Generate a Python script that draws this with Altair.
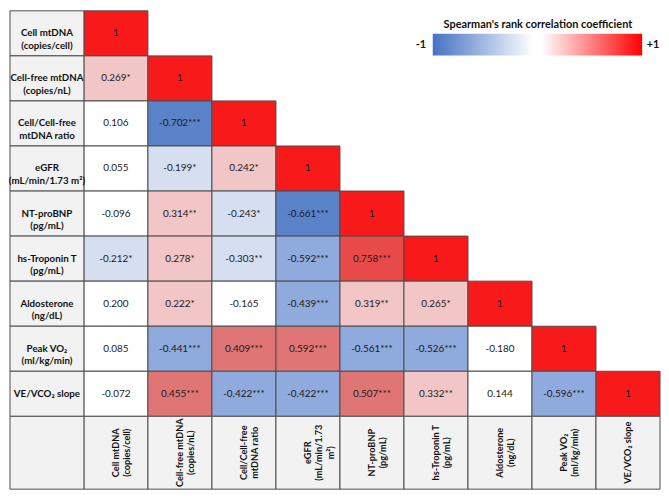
import altair as alt
import pandas as pd

row_labels = [
    "Cell mtDNA\n(copies/cell)",
    "Cell-free mtDNA\n(copies/nL)",
    "Cell/Cell-free\nmtDNA ratio",
    "eGFR\n(mL/min/1.73 m²)",
    "NT-proBNP\n(pg/mL)",
    "hs-Troponin T\n(pg/mL)",
    "Aldosterone\n(ng/dL)",
    "Peak VO₂\n(ml/kg/min)",
    "VE/VCO₂ slope",
]
col_labels = [
    "Cell mtDNA\n(copies/cell)",
    "Cell-free mtDNA\n(copies/nL)",
    "Cell/Cell-free\nmtDNA ratio",
    "eGFR\n(mL/min/1.73\nm²)",
    "NT-proBNP\n(pg/mL)",
    "hs-Troponin T\n(pg/mL)",
    "Aldosterone\n(ng/dL)",
    "Peak VO₂\n(ml/kg/min)",
    "VE/VCO₂ slope",
]
values = [
    [1.0],
    [0.269, 1.0],
    [0.106, -0.702, 1.0],
    [0.055, -0.199, 0.242, 1.0],
    [-0.096, 0.314, -0.243, -0.661, 1.0],
    [-0.212, 0.278, -0.303, -0.592, 0.758, 1.0],
    [0.200, 0.222, -0.165, -0.439, 0.319, 0.265, 1.0],
    [0.085, -0.441, 0.409, 0.592, -0.561, -0.526, -0.180, 1.0],
    [-0.072, 0.455, -0.422, -0.422, 0.507, 0.332, 0.144, -0.596, 1.0],
]
stars = [
    [""],
    ["*", ""],
    ["", "***", ""],
    ["", "*", "*", ""],
    ["", "**", "*", "***", ""],
    ["*", "*", "**", "***", "***", ""],
    ["", "*", "", "***", "**", "*", ""],
    ["", "***", "***", "***", "***", "***", "", ""],
    ["", "***", "***", "***", "***", "**", "", "***", ""],
]
legend_title = "Spearman's rank correlation coefficient"
legend_ends = ["-1", "+1"]

tier_domain = ["ns", "pos1", "pos2", "pos3", "neg1", "neg2", "neg3", "one"]
tier_range = ["#FFFFFF", "#F2C6C6", "#E07575", "#E84A4A",
              "#D5DFF0", "#8FAADC", "#5A82C8", "#F81A1A"]

N = len(row_labels)
LABEL_W = 1.155
HEAD_H = 1.617
FONT = "Lato"
BORDER = "#4d4d4d"

cells = []
for i, (vals, sts) in enumerate(zip(values, stars)):
    for j, (v, s) in enumerate(zip(vals, sts)):
        if i == j:
            text, tier = "1", "one"
        else:
            text = f"{v:.3f}{s}"
            if not s:
                tier = "ns"
            else:
                a = abs(v)
                lvl = 1 if a < 0.35 else (2 if a < 0.6 else 3)
                tier = ("pos" if v > 0 else "neg") + str(lvl)
        cells.append(dict(x0=j, x1=j + 1, y0=i, y1=i + 1,
                          xc=j + 0.5, yc=i + 0.5, text=text, tier=tier))
cells = pd.DataFrame(cells)

rows = pd.DataFrame([dict(x0=-LABEL_W, x1=0, y0=i, y1=i + 1,
                          xc=-LABEL_W / 2, yc=i + 0.5, text=t)
                     for i, t in enumerate(row_labels)])
heads = pd.DataFrame([dict(x0=j, x1=j + 1, y0=N, y1=N + HEAD_H,
                           xc=j + 0.5, yc=N + HEAD_H / 2, text=t)
                      for j, t in enumerate(col_labels)]
                     + [dict(x0=-LABEL_W, x1=0, y0=N, y1=N + HEAD_H,
                             xc=-LABEL_W / 2, yc=N + HEAD_H / 2, text="")])

xs = alt.Scale(domain=[-LABEL_W, N], nice=False, zero=False)
ys = alt.Scale(domain=[0, N + HEAD_H], nice=False, zero=False, reverse=True)

def rect_enc():
    return dict(x=alt.X("x0:Q", scale=xs, axis=None), x2="x1:Q",
                y=alt.Y("y0:Q", scale=ys, axis=None), y2="y1:Q")

def text_enc():
    return dict(x=alt.X("xc:Q", scale=xs, axis=None),
                y=alt.Y("yc:Q", scale=ys, axis=None), text="text:N")

cell_rect = alt.Chart(cells).mark_rect(stroke=BORDER, strokeWidth=1).encode(
    **rect_enc(),
    color=alt.Color("tier:N", scale=alt.Scale(domain=tier_domain, range=tier_range), legend=None),
)
cell_text = alt.Chart(cells).mark_text(font=FONT, fontSize=10, color="#1a1a1a").encode(**text_enc())

row_rect = alt.Chart(rows).mark_rect(fill="#F2F2F2", stroke=BORDER, strokeWidth=1).encode(**rect_enc())
row_text = alt.Chart(rows).mark_text(font=FONT, fontSize=9.8, fontWeight="bold",
                                     lineBreak="\n", lineHeight=12.5, color="#111").encode(**text_enc())

head_rect = alt.Chart(heads).mark_rect(fill="#F2F2F2", stroke=BORDER, strokeWidth=1).encode(**rect_enc())
head_text = alt.Chart(heads).mark_text(font=FONT, fontSize=9.2, fontWeight="bold", angle=270,
                                       lineBreak="\n", lineHeight=11.5, color="#111").encode(**text_enc())

leg_df = pd.DataFrame({"t": [legend_title]})
leg_bar = alt.Chart(leg_df).mark_rect(
    fill=alt.Gradient(gradient="linear", x1=0, x2=1, y1=0, y2=0,
                      stops=[alt.GradientStop(offset=0, color="#4472C4"),
                             alt.GradientStop(offset=0.48, color="#FFFFFF"),
                             alt.GradientStop(offset=0.52, color="#FFFFFF"),
                             alt.GradientStop(offset=1, color="#FF0000")])
).encode(x=alt.value(426), x2=alt.value(637), y=alt.value(23), y2=alt.value(45))
leg_title = alt.Chart(leg_df).mark_text(font=FONT, fontSize=11, fontWeight="bold", color="#111").encode(
    x=alt.value(532), y=alt.value(14), text="t:N")
ends_df = pd.DataFrame({"t": legend_ends, "px": [414, 648]})
leg_ends = alt.Chart(ends_df).mark_text(font=FONT, fontSize=11, fontWeight="bold", color="#111").encode(
    x=alt.X("px:Q", scale=None), y=alt.value(34), text="t:N")

chart = alt.layer(cell_rect, cell_text, row_rect, row_text, head_rect, head_text,
                  leg_bar, leg_title, leg_ends).properties(
    width=655, height=482, padding=0
).configure_view(stroke=None)

chart.save("out.html", embed_options={"renderer": "svg", "actions": False})
